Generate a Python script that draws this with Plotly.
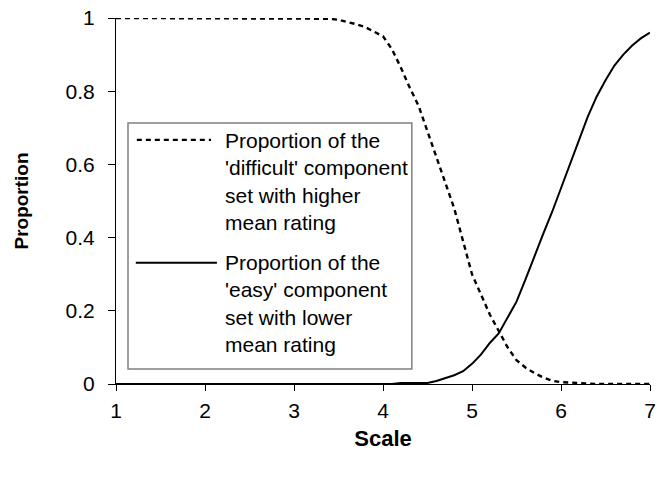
import plotly.graph_objects as go

# Scale values (x)
scale = [round(1 + 0.1 * i, 1) for i in range(61)]

# Proportion of the 'difficult' component set with higher mean rating
difficult = [1.0] * 24 + [
    0.998, 0.995, 0.99, 0.983, 0.975, 0.963, 0.95, 0.915, 0.865, 0.81,
    0.76, 0.69, 0.62, 0.55, 0.48, 0.39, 0.30, 0.245, 0.19, 0.145,
    0.10, 0.065, 0.045, 0.03, 0.018, 0.009, 0.005, 0.004, 0.002, 0.001,
    0.0, 0.0, 0.0, 0.0, 0.0, 0.0, 0.0]

# Proportion of the 'easy' component set with lower mean rating
easy = [0.0] * 32 + [
    0.003, 0.003, 0.003, 0.003, 0.008, 0.015, 0.024, 0.035, 0.055, 0.08,
    0.112, 0.138, 0.18, 0.225, 0.285, 0.35, 0.41, 0.47, 0.535, 0.6,
    0.67, 0.73, 0.785, 0.83, 0.87, 0.9, 0.925, 0.945, 0.96]

x_ticks = [1, 2, 3, 4, 5, 6, 7]
y_ticks = [0, 0.2, 0.4, 0.6, 0.8, 1]
y_ticktext = ["0", "0.2", "0.4", "0.6", "0.8", "1"]

legend_difficult = "Proportion of the<br>'difficult' component<br>set with higher<br>mean rating"
legend_easy = "Proportion of the<br>'easy' component<br>set with lower<br>mean rating"

FONT = "Liberation Sans, Arial, sans-serif"
FS = 21
DASH = "5px,4px"

fig = go.Figure()
fig.add_trace(go.Scatter(x=scale, y=difficult, mode="lines", showlegend=False,
                         line=dict(color="black", width=2.4, dash=DASH)))
fig.add_trace(go.Scatter(x=scale, y=easy, mode="lines", showlegend=False,
                         line=dict(color="black", width=2)))

# manual legend (paper coordinates)
fig.add_shape(type="rect", xref="paper", yref="paper", x0=0.0225, x1=0.554, y0=0.041, y1=0.713,
              line=dict(color="#808080", width=1.5), fillcolor="white", layer="below")
fig.add_shape(type="line", xref="paper", yref="paper", x0=0.039, x1=0.178, y0=0.667, y1=0.667,
              line=dict(color="black", width=2.4, dash=DASH))
fig.add_shape(type="line", xref="paper", yref="paper", x0=0.037, x1=0.189, y0=0.331, y1=0.331,
              line=dict(color="black", width=2))
fig.add_annotation(xref="paper", yref="paper", x=0.2, y=0.5546, xanchor="left", yanchor="middle",
                   align="left", showarrow=False, text=legend_difficult,
                   font=dict(family=FONT, size=FS, color="black"))
fig.add_annotation(xref="paper", yref="paper", x=0.2, y=0.2186, xanchor="left", yanchor="middle",
                   align="left", showarrow=False, text=legend_easy,
                   font=dict(family=FONT, size=FS, color="black"))

fig.update_layout(
    width=659, height=479,
    margin=dict(l=116, r=9, t=18, b=95, autoexpand=False),
    paper_bgcolor="white", plot_bgcolor="white",
    font=dict(family=FONT, size=FS, color="black"),
    xaxis=dict(range=[1, 7], tickvals=x_ticks, showgrid=False, zeroline=False,
               showline=True, linecolor="black", linewidth=1, ticks="outside", ticklen=6,
               tickcolor="black", ticklabelstandoff=2, automargin=False,
               tickfont=dict(size=FS),
               title=dict(text="<b>Scale</b>", font=dict(size=22), standoff=9)),
    yaxis=dict(range=[0, 1], tickvals=y_ticks, ticktext=y_ticktext,
               showgrid=False, zeroline=False, automargin=False,
               showline=True, linecolor="black", linewidth=1, ticks="outside", ticklen=7,
               tickcolor="black", ticklabelstandoff=9, tickfont=dict(size=FS),
               title=dict(text="<b>Proportion</b>", font=dict(size=19), standoff=31)),
)

fig.write_html("out.html", config={"displayModeBar": False},
               post_script="document.body.style.margin='0';document.body.style.padding='0';")
